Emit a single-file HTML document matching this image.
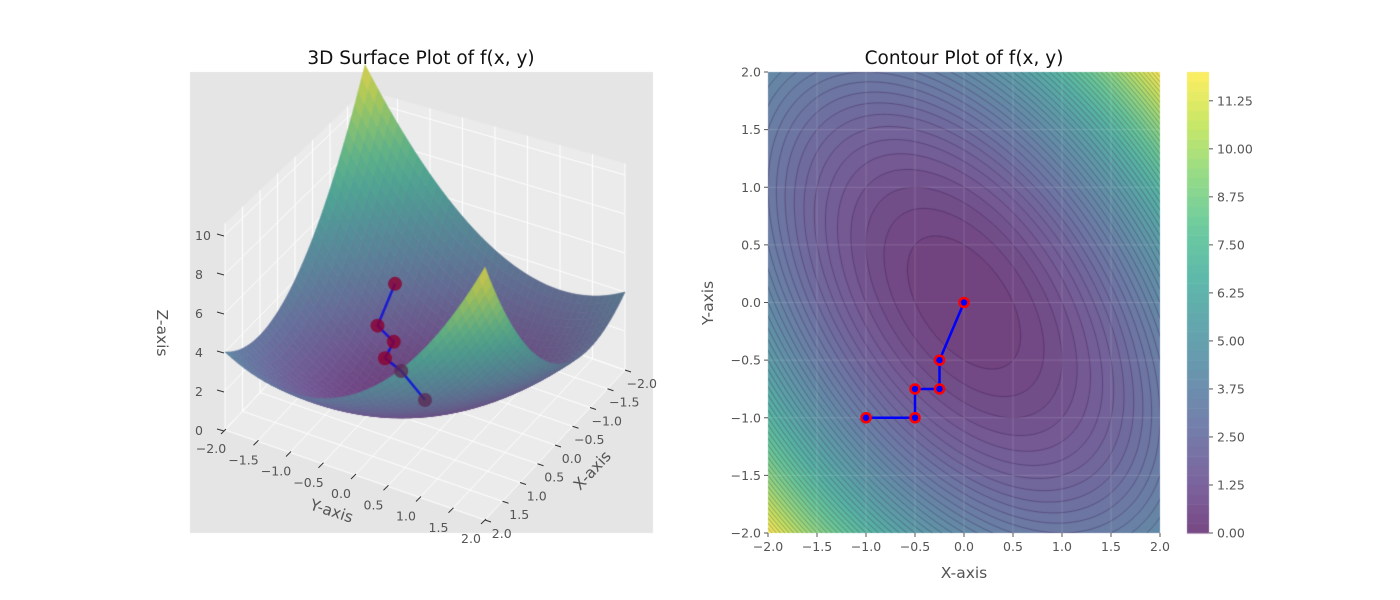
<!DOCTYPE html>
<html><head><meta charset="utf-8">
<style>
body{margin:0;background:#fff;font-family:"DejaVu Sans","Liberation Sans",sans-serif;}
#wrap{position:relative;width:1400px;height:600px;overflow:hidden;}
canvas,svg{position:absolute;left:0;top:0;}
</style></head>
<body>
<div id="wrap">
<canvas id="c3d" width="1400" height="600"></canvas>
<canvas id="cc" width="1400" height="600"></canvas>
<svg id="s" width="1400" height="600"></svg>
</div>
<script>
// ---- data ----
const pathX = [0, -0.25, -0.25, -0.5, -0.5, -1];
const pathY = [0, -0.5, -0.75, -0.75, -1, -1];
const axisTicks = [-2.0, -1.5, -1.0, -0.5, 0.0, 0.5, 1.0, 1.5, 2.0];
const zTicks = [0, 2, 4, 6, 8, 10];
const cbarTicks = [0, 1.25, 2.5, 3.75, 5, 6.25, 7.5, 8.75, 10, 11.25];
const cbarMax = 12;
const levelStep = 0.25;
function f(x, y){ return x*x + x*y + y*y; }

const VIR = [[68,1,84],[72,40,120],[62,74,137],[49,104,142],[38,130,142],[31,158,137],[53,183,121],[109,205,89],[180,222,44],[253,231,37]];
function vir(t){ t=Math.max(0,Math.min(1,t)); const p=t*(VIR.length-1); const i=Math.min(VIR.length-2,Math.floor(p)); const r=p-i;
  return VIR[i].map((c,k)=>c+(VIR[i+1][k]-c)*r); }
function blend(c,a,bg){ return c.map((v,k)=>Math.round(v*a+bg[k]*(1-a))); }
function fmt(v){ return v.toFixed(1).replace('-','\u2212'); }

const NS='http://www.w3.org/2000/svg';
const svg=document.getElementById('s');
function el(tag, attrs, parent){ const e=document.createElementNS(NS,tag); for(const k in attrs) e.setAttribute(k,attrs[k]); (parent||svg).appendChild(e); return e; }
function txt(x,y,s,size,anchor,fill,rot){ const t=el('text',{x:x,y:y,'font-size':size,'text-anchor':anchor||'middle',fill:fill||'#555','font-family':'DejaVu Sans, Liberation Sans, sans-serif'}); if(rot) t.setAttribute('transform','rotate('+rot+' '+x+' '+y+')'); t.textContent=s; return t; }

// ---- contour panel ----
const L=768,R=1160,T=72,B=533;
const sx=v=>L+(v+2)/4*(R-L);
const sy=v=>B-(v+2)/4*(B-T);
const cc=document.getElementById('cc').getContext('2d');
const img=cc.createImageData(R-L,B-T);
for(let j=0;j<B-T;j++){for(let i=0;i<R-L;i++){
  const x=-2+(i+0.5)/(R-L)*4, y=2-(j+0.5)/(B-T)*4;
  let v=f(x,y); v=Math.floor(v/levelStep)*levelStep+levelStep/2;
  const c=blend(vir(v/cbarMax),0.72,[229,229,229]);
  const o=(j*(R-L)+i)*4; img.data[o]=c[0];img.data[o+1]=c[1];img.data[o+2]=c[2];img.data[o+3]=255;}}
cc.putImageData(img,L,T);
cc.save(); cc.beginPath(); cc.rect(L,T,R-L,B-T); cc.clip();
cc.strokeStyle='rgba(40,10,60,0.45)'; cc.lineWidth=0.7;
for(let c=levelStep;c<cbarMax;c+=levelStep){
  const a=Math.sqrt(c/1.5), b=Math.sqrt(c/0.5);
  cc.beginPath();
  for(let k=0;k<=240;k++){const t=k/240*2*Math.PI; const u=a*Math.cos(t), w=b*Math.sin(t);
    const x=(u+w)/Math.SQRT2, y=(u-w)/Math.SQRT2; const px=sx(x), py=sy(y); k?cc.lineTo(px,py):cc.moveTo(px,py);}
  cc.stroke();}
cc.strokeStyle='rgba(255,255,255,0.15)'; cc.lineWidth=1;
[-1.5,-1,-0.5,0,0.5,1,1.5].forEach(v=>{cc.beginPath();cc.moveTo(sx(v),T);cc.lineTo(sx(v),B);cc.moveTo(L,sy(v));cc.lineTo(R,sy(v));cc.stroke();});
cc.restore();
const CL=1187,CR=1209;
for(let v=0;v<cbarMax;v+=levelStep){const c=blend(vir((v+levelStep/2)/cbarMax),0.72,[255,255,255]);
  const y1=B-(v+levelStep)/cbarMax*(B-T), y0=B-v/cbarMax*(B-T);
  cc.fillStyle='rgb('+c.join(',')+')'; cc.fillRect(CL,y1,CR-CL,y0-y1+0.5);}
const gC=el('g',{});
cbarTicks.forEach(v=>{const y=B-v/cbarMax*(B-T); el('line',{x1:CR,x2:CR+4,y1:y,y2:y,stroke:'#555'},gC); txt(CR+8,y+4.5,v.toFixed(2),12.5,'start','#555');});
const gT=el('g',{});
axisTicks.forEach(v=>{el('line',{x1:sx(v),x2:sx(v),y1:B,y2:B+4,stroke:'#555'},gT); txt(sx(v),B+18,fmt(v),12.5,'middle');
  el('line',{x1:L-4,x2:L,y1:sy(v),y2:sy(v),stroke:'#555'},gT); txt(L-7,sy(v)+4.5,fmt(v),12.5,'end');});
txt(964,578,'X-axis',15.5,'middle','#555');
txt(713,303,'Y-axis',15.5,'middle','#555',-90);
txt(964,64,'Contour Plot of f(x, y)',18.5,'middle','#111');
const gP=el('g',{});
el('polyline',{points:pathX.map((x,i)=>sx(x)+','+sy(pathY[i])).join(' '),fill:'none',stroke:'#0000ff','stroke-width':2.5},gP);
pathX.forEach((x,i)=>{const c=el('circle',{cx:sx(x),cy:sy(pathY[i]),r:4.5,fill:'#0000ff',stroke:'#ff0000','stroke-width':2.5},gP); });

// ---- 3D panel ----
const g3=document.getElementById('c3d').getContext('2d');
g3.fillStyle='#e5e5e5'; g3.fillRect(190,72,463,461);
const O=[425,400], EX=[-35,37.5], EY=[65,22.5];
function P(x,y,z){ const persp=1-(-(x+y))*0.02; return [O[0]+x*EX[0]+y*EY[0], O[1]+x*EX[1]+y*EY[1]-z*19.5*persp]; }
const ZT=10.6;
function poly(pts,fill,stroke){g3.beginPath();pts.forEach((p,i)=>i?g3.lineTo(p[0],p[1]):g3.moveTo(p[0],p[1]));g3.closePath();if(fill){g3.fillStyle=fill;g3.fill();}if(stroke){g3.strokeStyle=stroke;g3.stroke();}}
poly([P(2,-2,0),P(-2,-2,0),P(-2,-2,ZT),P(2,-2,ZT)],'#ebebeb');
poly([P(-2,-2,0),P(-2,2,0),P(-2,2,ZT),P(-2,-2,ZT)],'#ebebeb');
poly([P(2,-2,0),P(-2,-2,0),P(-2,2,0),P(2,2,0)],'#ebebeb');
g3.strokeStyle='#fff'; g3.lineWidth=1;
function ln(a,b){g3.beginPath();g3.moveTo(a[0],a[1]);g3.lineTo(b[0],b[1]);g3.stroke();}
axisTicks.forEach(v=>{ ln(P(v,-2,0),P(v,-2,ZT)); ln(P(v,-2,0),P(v,2,0)); ln(P(-2,v,0),P(-2,v,ZT)); ln(P(2,v,0),P(-2,v,0)); });
zTicks.forEach(z=>{ ln(P(2,-2,z),P(-2,-2,z)); ln(P(-2,-2,z),P(-2,2,z)); });
const N=40, quads=[];
for(let i=0;i<N;i++)for(let j=0;j<N;j++){const x0=-2+4*i/N,x1=-2+4*(i+1)/N,y0=-2+4*j/N,y1=-2+4*(j+1)/N;
  const zc=f((x0+x1)/2,(y0+y1)/2); quads.push({d:(x0+x1+y0+y1),pts:[P(x0,y0,f(x0,y0)),P(x1,y0,f(x1,y0)),P(x1,y1,f(x1,y1)),P(x0,y1,f(x0,y1))],z:zc,
    nx:-(2*(x0+x1)/2+(y0+y1)/2),ny:-(2*(y0+y1)/2+(x0+x1)/2)});}
quads.sort((a,b)=>a.d-b.d);
quads.forEach(q=>{ let c=vir(q.z/12); const nl=Math.hypot(q.nx,q.ny,1); const sh=0.8+0.2*((q.nx*-0.3+q.ny*0.5+1)/nl);
  c=c.map(v=>Math.min(255,v*sh)); const cb=blend(c,0.75,[235,235,235]); const col='rgb('+cb.join(',')+')';
  g3.lineWidth=0.6; poly(q.pts,col,col);});
g3.strokeStyle='rgba(0,0,230,0.75)'; g3.lineWidth=2.5; g3.beginPath();
pathX.forEach((x,i)=>{const p=P(x,pathY[i],f(x,pathY[i])); i?g3.lineTo(p[0],p[1]):g3.moveTo(p[0],p[1]);}); g3.stroke();
pathX.forEach((x,i)=>{const p=P(x,pathY[i],f(x,pathY[i])); g3.fillStyle=i<2?'rgba(90,40,80,0.75)':'rgba(140,0,50,0.8)'; g3.beginPath(); g3.arc(p[0],p[1],7,0,7); g3.fill();});
const g3t=el('g',{});
zTicks.forEach(z=>{const p=P(2,-2,z); el('line',{x1:p[0]-8,x2:p[0]-1,y1:p[1]-1,y2:p[1]+1,stroke:'#333'},g3t); txt(p[0]-30,p[1]+5,String(z),12.5,'start','#555');});
axisTicks.forEach(v=>{const p=P(2.4,v,0); txt(p[0],p[1]+8,fmt(v),12.5,'middle','#555');
  const q=P(2,v,0); el('line',{x1:q[0]-4,y1:q[1]+4,x2:q[0]+1,y2:q[1]-1,stroke:'#333'},g3t);
  const r=P(v,2.35,0); txt(r[0]-6,r[1]+10,fmt(v),12.5,'middle','#555');
  const s2=P(v,2,0); el('line',{x1:s2[0],y1:s2[1],x2:s2[0]+6,y2:s2[1]+2,stroke:'#333'},g3t);});
txt(330,516,'Y-axis',15.5,'middle','#555',18);
txt(596,474,'X-axis',15.5,'middle','#555',-47);
txt(157,333,'Z-axis',15.5,'middle','#555',90);
txt(421,64,'3D Surface Plot of f(x, y)',18.5,'middle','#111');
</script>
</body></html>
